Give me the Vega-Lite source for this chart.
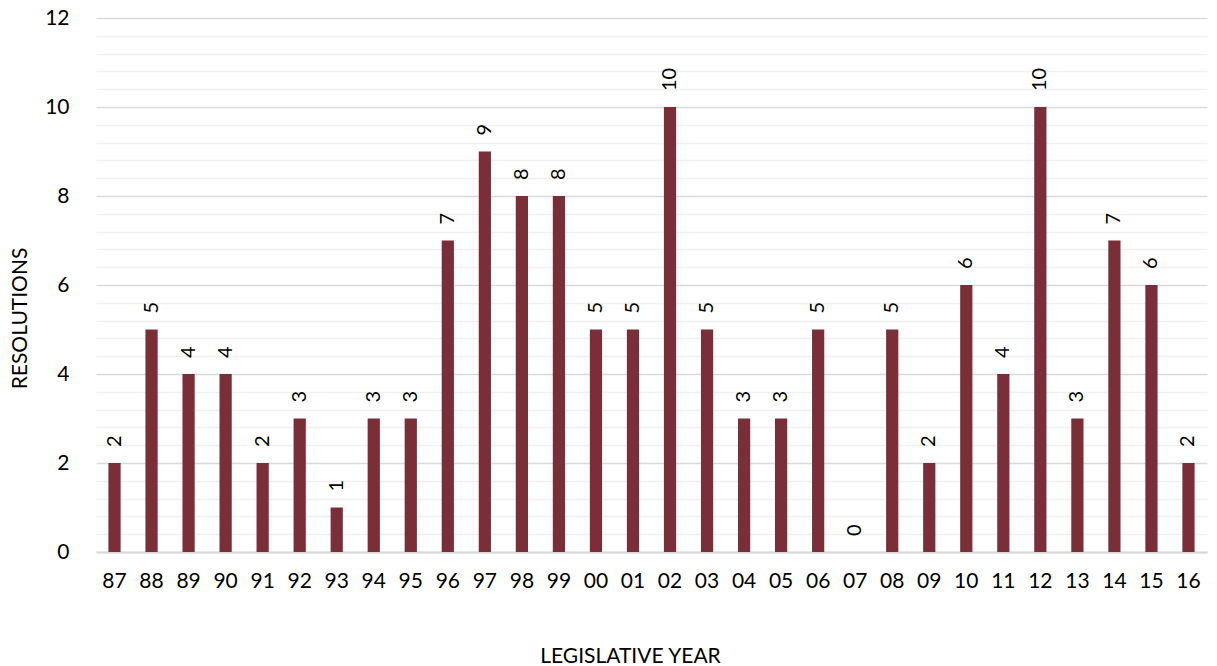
{
  "$schema": "https://vega.github.io/schema/vega-lite/v6.json",
  "width": 1111,
  "height": 534,
  "autosize": {"type": "none"},
  "padding": {"left": 96, "top": 18, "right": 10, "bottom": 114},
  "background": "white",
  "config": {"view": {"stroke": null}, "font": "Lato"},
  "data": {"values": [
    {"year": "87", "n": 2}, {"year": "88", "n": 5}, {"year": "89", "n": 4}, {"year": "90", "n": 4},
    {"year": "91", "n": 2}, {"year": "92", "n": 3}, {"year": "93", "n": 1}, {"year": "94", "n": 3},
    {"year": "95", "n": 3}, {"year": "96", "n": 7}, {"year": "97", "n": 9}, {"year": "98", "n": 8},
    {"year": "99", "n": 8}, {"year": "00", "n": 5}, {"year": "01", "n": 5}, {"year": "02", "n": 10},
    {"year": "03", "n": 5}, {"year": "04", "n": 3}, {"year": "05", "n": 3}, {"year": "06", "n": 5},
    {"year": "07", "n": 0}, {"year": "08", "n": 5}, {"year": "09", "n": 2}, {"year": "10", "n": 6},
    {"year": "11", "n": 4}, {"year": "12", "n": 10}, {"year": "13", "n": 3}, {"year": "14", "n": 7},
    {"year": "15", "n": 6}, {"year": "16", "n": 2}
  ]},
  "encoding": {
    "x": {
      "field": "year", "type": "nominal", "sort": null,
      "scale": {"paddingInner": 0.67, "paddingOuter": 0.335},
      "axis": {
        "title": "LEGISLATIVE YEAR", "titleFontSize": 21, "titleFontWeight": "normal", "titleColor": "#000000",
        "titleX": 534, "titleY": 110, "titleBaseline": "alphabetic", "titleAlign": "center",
        "labelAngle": 0, "labelFontSize": 21, "labelColor": "#000000", "labelPadding": 18,
        "ticks": false, "domainColor": "#d9d9d9", "domainWidth": 2, "grid": false
      }
    },
    "y": {
      "field": "n", "type": "quantitative",
      "scale": {"domain": [0, 12], "nice": false},
      "axis": {
        "title": "RESOLUTIONS", "titleFontSize": 21, "titleFontWeight": "normal", "titleColor": "#000000",
        "titleX": -70, "titleY": 300, "titleBaseline": "alphabetic", "titleAlign": "center", "titleAngle": 270,
        "values": [0, 0.4, 0.8, 1.2, 1.6, 2, 2.4, 2.8, 3.2, 3.6, 4, 4.4, 4.8, 5.2, 5.6, 6, 6.4, 6.8, 7.2, 7.6, 8, 8.4, 8.8, 9.2, 9.6, 10, 10.4, 10.8, 11.2, 11.6, 12],
        "labelExpr": "datum.value % 2 == 0 ? format(datum.value, 'd') : ''",
        "labelFontSize": 21, "labelColor": "#000000", "labelPadding": 27, "labelOverlap": false,
        "ticks": false, "domain": false,
        "gridColor": {"expr": "datum.value % 2 == 0 ? '#d9d9d9' : '#f0f0f0'"},
        "gridWidth": 1.5
      }
    }
  },
  "layer": [
    {"mark": {"type": "bar", "color": "#7a2e37"}},
    {
      "mark": {"type": "text", "angle": 270, "align": "left", "baseline": "middle", "dx": 16, "fontSize": 20, "color": "#000000"},
      "encoding": {"text": {"field": "n", "type": "quantitative"}}
    }
  ]
}
